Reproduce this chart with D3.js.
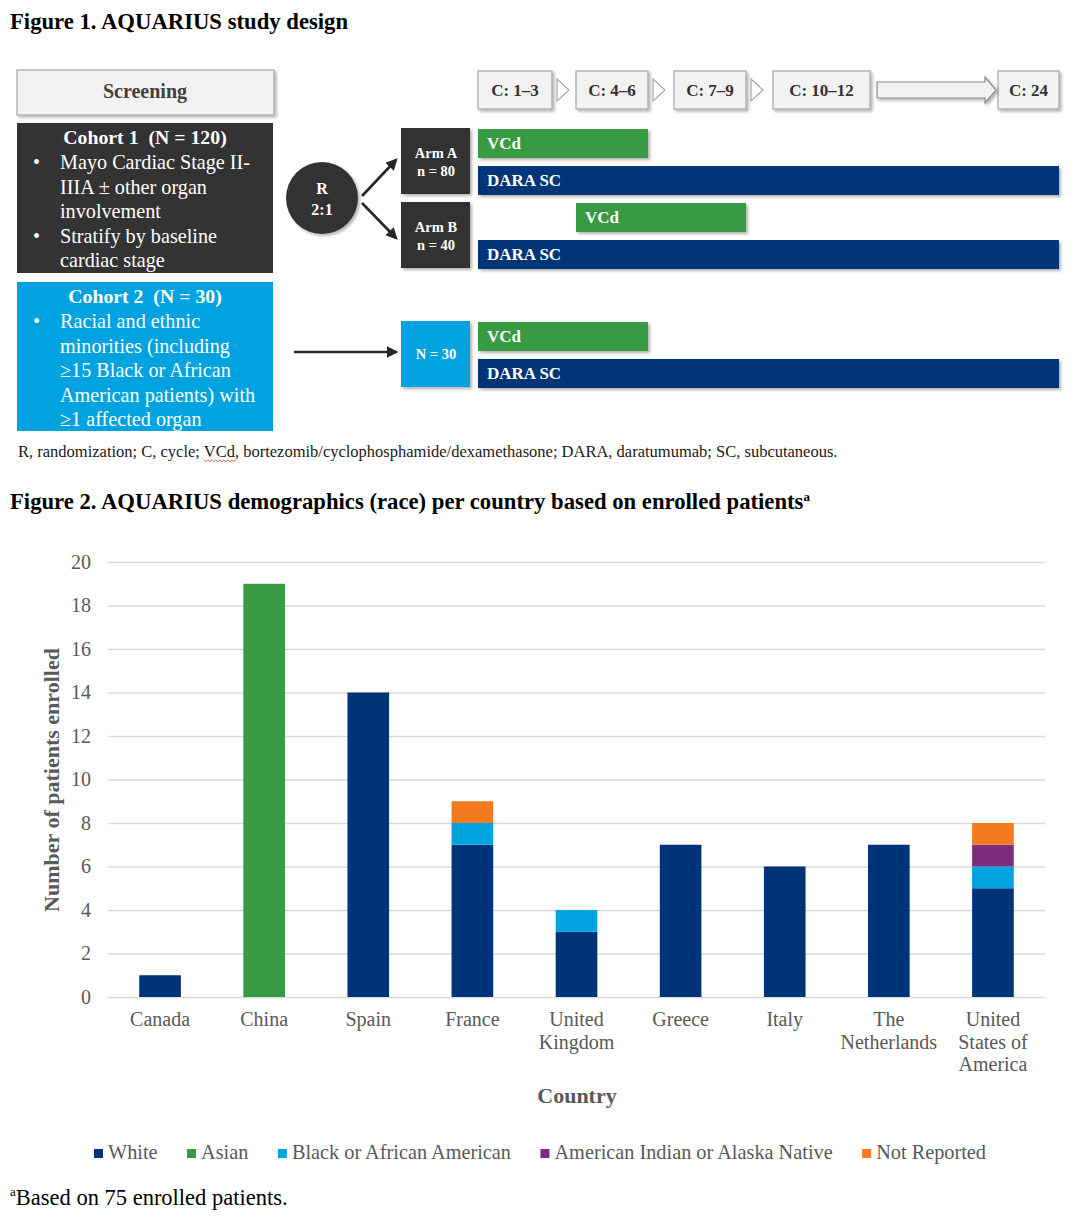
<!DOCTYPE html>
<html>
<head>
<meta charset="utf-8">
<script src="https://cdn.jsdelivr.net/npm/d3@7"></script>
<style>
  body { margin: 0; background: #fff; }
  text { font-family: "Liberation Serif", "Times New Roman", serif; }
</style>
</head>
<body>
<div id="svg-area"></div>
<script>
// ===== Figure 1 data (study design) =====
var cycles = ["C: 1–3", "C: 4–6", "C: 7–9", "C: 10–12", "C: 24"];
var armLabels = [["Arm A", "n = 80"], ["Arm B", "n = 40"], ["N = 30"]];
// each treatment bar: label, arm, row in arm, first cycle block, last cycle block
var treatLabels = ["VCd", "DARA SC", "VCd", "DARA SC", "VCd", "DARA SC"];
var treatArm = [0, 0, 1, 1, 2, 2];
var treatRow = [0, 1, 0, 1, 0, 1];
var treatFrom = [0, 0, 1, 0, 0, 0];
var treatTo = [1, 4, 2, 4, 1, 4];
var cohort1Title = "Cohort 1  (N = 120)";
var cohort1Lines = [["•", "Mayo Cardiac Stage II-"], ["", "IIIA ± other organ"], ["", "involvement"],
                    ["•", "Stratify by baseline"], ["", "cardiac stage"]];
var cohort2Title = "Cohort 2  (N = 30)";
var cohort2Lines = [["•", "Racial and ethnic"], ["", "minorities (including"], ["", "≥15 Black or African"],
                    ["", "American patients) with"], ["", "≥1 affected organ"]];
var fig1Note = "R, randomization; C, cycle; VCd, bortezomib/cyclophosphamide/dexamethasone; DARA, daratumumab; SC, subcutaneous.";

// ===== Figure 2 data (race per country) =====
var countries = ["Canada", "China", "Spain", "France", "United Kingdom", "Greece", "Italy", "The Netherlands", "United States of America"];
var countryLines = [["Canada"], ["China"], ["Spain"], ["France"], ["United", "Kingdom"], ["Greece"], ["Italy"], ["The", "Netherlands"], ["United", "States of", "America"]];
var races = ["White", "Asian", "Black or African American", "American Indian or Alaska Native", "Not Reported"];
var white = [1, 0, 14, 7, 3, 7, 6, 7, 5];
var asian = [0, 19, 0, 0, 0, 0, 0, 0, 0];
var black = [0, 0, 0, 1, 1, 0, 0, 0, 1];
var aian = [0, 0, 0, 0, 0, 0, 0, 0, 1];
var notReported = [0, 0, 0, 1, 0, 0, 0, 0, 1];
var yTicks = [0, 2, 4, 6, 8, 10, 12, 14, 16, 18, 20];
var raceColors = ["#003478", "#389a43", "#00a3e0", "#7b2c7c", "#f47a20"];

// ===== svg =====
var svgWidth = 1080, svgHeight = 1222;
var svg = d3.select("#svg-area").append("svg")
    .attr("width", svgWidth)
    .attr("height", svgHeight);

var defs = svg.append("defs");
var shadow = defs.append("filter").attr("id", "shadow")
    .attr("x", "-10%").attr("y", "-10%").attr("width", "130%").attr("height", "140%");
shadow.append("feDropShadow")
    .attr("dx", 2).attr("dy", 2).attr("stdDeviation", 1.6)
    .attr("flood-color", "#000").attr("flood-opacity", 0.3);
defs.append("marker").attr("id", "arrowHead")
    .attr("viewBox", "0 0 10 10").attr("refX", 8).attr("refY", 5)
    .attr("markerWidth", 4.5).attr("markerHeight", 4.5).attr("orient", "auto")
    .append("path").attr("d", "M0,0 L10,5 L0,10 z").attr("fill", "#262626");

//////// Figure 1 ////////
svg.append("text")
    .attr("x", 10).attr("y", 29)
    .attr("font-size", "22.7px").attr("font-weight", "bold").attr("fill", "#000")
    .text("Figure 1. AQUARIUS study design");

var fig1 = svg.append("g");
var dark = "#333333", sky = "#00a3e0", navy = "#003478", green = "#389a43";

// screening
fig1.append("rect").attr("x", 17).attr("y", 70).attr("width", 257).attr("height", 45)
    .attr("fill", "#f2f2f2").attr("stroke", "#a6a6a6").attr("stroke-width", 1.2)
    .attr("filter", "url(#shadow)");
fig1.append("text").attr("x", 145).attr("y", 98).attr("text-anchor", "middle")
    .attr("font-size", "20px").attr("font-weight", "bold").attr("fill", "#404040")
    .text("Screening");

// cohort boxes
function cohortBox(top, height, fill, title, lines) {
    fig1.append("rect").attr("x", 17).attr("y", top).attr("width", 256).attr("height", height)
        .attr("fill", fill);
    fig1.append("text").attr("x", 145).attr("y", top + 21).attr("text-anchor", "middle")
        .attr("font-size", "19.8px").attr("font-weight", "bold").attr("fill", "#fff")
        .attr("xml:space", "preserve")
        .text(title);
    lines.forEach(function (l, i) {
        var yy = top + 46 + i * 24.5;
        if (l[0]) {
            fig1.append("text").attr("x", 33).attr("y", yy)
                .attr("font-size", "20px").attr("fill", "#fff").text(l[0]);
        }
        fig1.append("text").attr("x", 60).attr("y", yy)
            .attr("font-size", "20.2px").attr("fill", "#fff").text(l[1]);
    });
}
cohortBox(123, 150, dark, cohort1Title, cohort1Lines);
cohortBox(282, 149, sky, cohort2Title, cohort2Lines);

// randomisation circle
fig1.append("circle").attr("cx", 322).attr("cy", 198).attr("r", 36)
    .attr("fill", dark).attr("filter", "url(#shadow)");
fig1.append("text").attr("x", 322).attr("y", 194).attr("text-anchor", "middle")
    .attr("font-size", "16px").attr("font-weight", "bold").attr("fill", "#fff").text("R");
fig1.append("text").attr("x", 322).attr("y", 215).attr("text-anchor", "middle")
    .attr("font-size", "16px").attr("font-weight", "bold").attr("fill", "#fff").text("2:1");

var arrows = [[362, 196, 396, 160], [362, 203, 396, 238], [294, 352, 396, 352]];
fig1.selectAll("line.arrow").data(arrows).enter().append("line")
    .attr("class", "arrow")
    .attr("x1", d => d[0]).attr("y1", d => d[1]).attr("x2", d => d[2]).attr("y2", d => d[3])
    .attr("stroke", "#262626").attr("stroke-width", 2.6)
    .attr("marker-end", "url(#arrowHead)");

// cycle header: block positions along the timeline
var cycleLeft = [478, 576, 674, 773, 998];
var cycleWidth = [74, 72, 72, 97, 61];
var cycleRight = cycleLeft.map((x, i) => x + cycleWidth[i]);
var cycleTop = 71, cycleH = 38;

fig1.selectAll("rect.cycle").data(cycles).enter().append("rect")
    .attr("class", "cycle")
    .attr("x", (d, i) => cycleLeft[i]).attr("y", cycleTop)
    .attr("width", (d, i) => cycleWidth[i]).attr("height", cycleH)
    .attr("fill", "#f2f2f2").attr("stroke", "#a6a6a6").attr("stroke-width", 1.2)
    .attr("filter", "url(#shadow)");
fig1.selectAll("text.cycle").data(cycles).enter().append("text")
    .attr("class", "cycle")
    .attr("x", (d, i) => cycleLeft[i] + cycleWidth[i] / 2).attr("y", cycleTop + 25)
    .attr("text-anchor", "middle")
    .attr("font-size", "17px").attr("font-weight", "bold").attr("fill", "#333")
    .text(d => d);

// chevrons between the first blocks
for (var c = 0; c < 3; c++) {
    var gx = cycleRight[c] + 5;
    fig1.append("path")
        .attr("d", `M${gx},${cycleTop + 8} L${gx + 12},${cycleTop + 19} L${gx},${cycleTop + 30} Z`)
        .attr("fill", "#fff").attr("stroke", "#a6a6a6").attr("stroke-width", 1.2);
}
// long block arrow to C: 24
var ax0 = cycleRight[3] + 7, ax1 = cycleLeft[4] - 2, my = cycleTop + 19;
fig1.append("path")
    .attr("d", `M${ax0},${my - 8} L${ax1 - 11},${my - 8} L${ax1 - 11},${my - 13} L${ax1},${my} ` +
               `L${ax1 - 11},${my + 13} L${ax1 - 11},${my + 8} L${ax0},${my + 8} Z`)
    .attr("fill", "#f2f2f2").attr("stroke", "#8c8c8c").attr("stroke-width", 1.2)
    .attr("filter", "url(#shadow)");

// arm boxes
var armTop = [128, 202, 321], armFill = [dark, dark, sky];
var rowGap = 37, barH = 29, armH = 66;
armLabels.forEach(function (lab, a) {
    fig1.append("rect").attr("x", 401).attr("y", armTop[a]).attr("width", 69).attr("height", armH)
        .attr("fill", armFill[a]).attr("filter", "url(#shadow)");
    lab.forEach(function (t, j) {
        var yy = lab.length === 1 ? armTop[a] + 38 : armTop[a] + 30 + j * 18;
        fig1.append("text").attr("x", 436).attr("y", yy).attr("text-anchor", "middle")
            .attr("font-size", "14.5px").attr("font-weight", "bold").attr("fill", "#fff").text(t);
    });
});

// treatment bars
var treatments = treatLabels.map((t, i) => ({
    label: t, arm: treatArm[i], row: treatRow[i], from: treatFrom[i], to: treatTo[i]
}));
fig1.selectAll("rect.treat").data(treatments).enter().append("rect")
    .attr("class", "treat")
    .attr("x", d => cycleLeft[d.from])
    .attr("y", d => armTop[d.arm] + 1 + d.row * rowGap)
    .attr("width", d => cycleRight[d.to] - cycleLeft[d.from])
    .attr("height", barH)
    .attr("fill", d => d.label === "VCd" ? green : navy)
    .attr("filter", "url(#shadow)");
fig1.selectAll("text.treat").data(treatments).enter().append("text")
    .attr("class", "treat")
    .attr("x", d => cycleLeft[d.from] + 9)
    .attr("y", d => armTop[d.arm] + 1 + d.row * rowGap + 20)
    .attr("font-size", "17px").attr("font-weight", "bold").attr("fill", "#fff")
    .text(d => d.label);

// figure 1 footnote, with the spell-check squiggle under "VCd"
var note1 = fig1.append("text").attr("x", 18).attr("y", 457)
    .attr("font-size", "16.5px").attr("fill", "#1a1a1a").text(fig1Note);
var idx = fig1Note.indexOf("VCd");
var n1 = note1.node();
var sx = 18 + n1.getSubStringLength(0, idx), sw = n1.getSubStringLength(idx, 3);
var zig = "M" + sx + ",460";
for (var zx = sx, k = 0; zx < sx + sw; zx += 2, k++) {
    zig += " L" + (zx + 2) + "," + (k % 2 ? 460 : 461.6);
}
fig1.append("path").attr("d", zig).attr("fill", "none").attr("stroke", "#e03030").attr("stroke-width", 0.8);

//////// Figure 2 ////////
var title2 = svg.append("text")
    .attr("x", 10).attr("y", 509)
    .attr("font-size", "22.7px").attr("font-weight", "bold").attr("fill", "#000");
title2.append("tspan").text("Figure 2. AQUARIUS demographics (race) per country based on enrolled patients");
title2.append("tspan").attr("font-size", "13px").attr("dy", -8).text("a");

var plot = { left: 108, right: 1045, top: 562, bottom: 997 };

var xBand = d3.scaleBand()
    .domain(countries)
    .range([plot.left, plot.right])
    .paddingInner(0.6)
    .paddingOuter(0.3);

var yLinear = d3.scaleLinear()
    .domain([0, 20])
    .range([plot.bottom, plot.top]);

var leftAxis = d3.axisLeft(yLinear)
    .tickValues(yTicks)
    .tickSize(-(plot.right - plot.left))
    .tickPadding(17);

var yAxis = svg.append("g")
    .attr("transform", `translate(${plot.left}, 0)`)
    .call(leftAxis);
yAxis.select(".domain").remove();
yAxis.selectAll(".tick line").attr("stroke", "#d9d9d9").attr("stroke-width", 1.5);
yAxis.selectAll(".tick text")
    .attr("font-family", "'Liberation Serif', 'Times New Roman', serif")
    .attr("font-size", "20px").attr("fill", "#595959");

// stacked bars
var table = countries.map(function (c, i) {
    return {
        country: c,
        "White": white[i],
        "Asian": asian[i],
        "Black or African American": black[i],
        "American Indian or Alaska Native": aian[i],
        "Not Reported": notReported[i]
    };
});
var series = d3.stack().keys(races)(table);

svg.append("g").selectAll("g")
    .data(series)
    .enter().append("g")
    .attr("fill", (d, i) => raceColors[i])
    .selectAll("rect")
    .data(d => d.filter(s => s[1] > s[0]))
    .enter().append("rect")
    .attr("x", d => xBand(d.data.country))
    .attr("y", d => yLinear(d[1]))
    .attr("width", xBand.bandwidth())
    .attr("height", d => yLinear(d[0]) - yLinear(d[1]));

// x labels
var xLabels = svg.append("g").selectAll("text")
    .data(countries)
    .enter().append("text")
    .attr("text-anchor", "middle")
    .attr("font-size", "20px").attr("fill", "#595959");
xLabels.each(function (c, i) {
    var t = d3.select(this);
    countryLines[i].forEach(function (line, j) {
        t.append("tspan")
            .attr("x", xBand(c) + xBand.bandwidth() / 2)
            .attr("y", 1026 + j * 22.5)
            .text(line);
    });
});

// axis titles
svg.append("text")
    .attr("transform", "rotate(-90)")
    .attr("x", -780).attr("y", 59)
    .attr("text-anchor", "middle")
    .attr("font-size", "22px").attr("font-weight", "bold").attr("fill", "#595959")
    .text("Number of patients enrolled");
svg.append("text")
    .attr("x", 577).attr("y", 1103)
    .attr("text-anchor", "middle")
    .attr("font-size", "22px").attr("font-weight", "bold").attr("fill", "#595959")
    .text("Country");

// legend
var legend = svg.append("g");
var lx = 94;
races.forEach(function (r, i) {
    legend.append("rect").attr("x", lx).attr("y", 1149).attr("width", 9).attr("height", 9)
        .attr("fill", raceColors[i]);
    var t = legend.append("text").attr("x", lx + 14).attr("y", 1159)
        .attr("font-size", "20.3px").attr("fill", "#595959").text(r);
    lx += 14 + t.node().getComputedTextLength() + 29.5;
});

// footnote
var note2 = svg.append("text").attr("x", 10).attr("y", 1205)
    .attr("font-size", "22.5px").attr("fill", "#000");
note2.append("tspan").attr("font-size", "13px").attr("dy", -9).text("a");
note2.append("tspan").attr("dy", 9).text("Based on 75 enrolled patients.");
</script>
</body>
</html>
